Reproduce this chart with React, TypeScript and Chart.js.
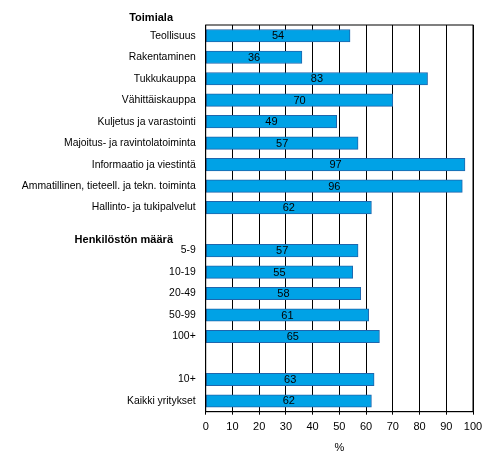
import { useEffect, useRef } from "react";
import Chart from "chart.js/auto";

const categories = [
  "Teollisuus",
  "Rakentaminen",
  "Tukkukauppa",
  "Vähittäiskauppa",
  "Kuljetus ja varastointi",
  "Majoitus- ja ravintolatoiminta",
  "Informaatio ja viestintä",
  "Ammatillinen, tieteell. ja tekn. toiminta",
  "Hallinto- ja tukipalvelut",
  "",
  "5-9",
  "10-19",
  "20-49",
  "50-99",
  "100+",
  " ",
  "10+",
  "Kaikki yritykset",
];

const values: (number | null)[] = [
  54, 36, 83, 70, 49, 57, 97, 96, 62,
  null,
  57, 55, 58, 61, 65,
  null,
  63, 62,
];

const groupHeaders = ["Toimiala", "Henkilöstön määrä"];
const xTicks = [0, 10, 20, 30, 40, 50, 60, 70, 80, 90, 100];

const FONT = "Arial, 'Liberation Sans', sans-serif";

export default function App() {
  const chartRef = useRef<HTMLCanvasElement>(null);

  useEffect(() => {
    document.body.style.margin = "0";
    if (!chartRef.current) return;
    const ctx = chartRef.current.getContext("2d");
    if (!ctx) return;

    const extras = {
      id: "extras",
      afterDatasetsDraw(chart: any) {
        const { ctx: c, chartArea: a, scales } = chart;
        const y = scales.y;
        // frame around plot
        c.save();
        c.strokeStyle = "#000";
        c.lineWidth = 1;
        c.strokeRect(a.left, a.top, a.right - a.left, a.bottom - a.top);
        // value labels
        const meta = chart.getDatasetMeta(0);
        c.font = "11px " + FONT;
        c.fillStyle = "#000";
        c.textAlign = "center";
        c.textBaseline = "middle";
        meta.data.forEach((bar: any, i: number) => {
          const v = values[i];
          if (v == null) return;
          c.fillText(String(v), (bar.base + bar.x) / 2, bar.y + 0.5);
        });
        // group headers
        c.font = "bold 11px " + FONT;
        c.textAlign = "right";
        const step = y.getPixelForValue(1) - y.getPixelForValue(0);
        c.fillText(groupHeaders[0], 173, y.getPixelForValue(0) - step * 0.84);
        c.fillText(groupHeaders[1], 173, y.getPixelForValue(10) - step * 0.5);
        c.restore();
      },
    };

    const myChart = new Chart(ctx, {
      type: "bar",
      data: {
        labels: categories,
        datasets: [
          {
            data: values,
            backgroundColor: "#00a2e6",
            borderColor: "#1f66ad",
            borderWidth: 1,
            borderSkipped: false,
            barThickness: 12.5,
          },
        ],
      },
      options: {
        indexAxis: "y",
        animation: false,
        responsive: false,
        maintainAspectRatio: false,
        layout: { padding: { top: 25, right: 20, left: 0, bottom: 0 } },
        plugins: {
          legend: { display: false },
          tooltip: { enabled: false },
        },
        scales: {
          x: {
            min: 0,
            max: 100,
            afterBuildTicks: (scale: any) => {
              scale.ticks = xTicks.map((v) => ({ value: v }));
            },
            afterFit: (scale: any) => {
              scale.height = 61.3;
            },
            grid: {
              color: "#000",
              lineWidth: 1,
              tickLength: 3,
              drawTicks: true,
            },
            border: { color: "#000", width: 1 },
            ticks: {
              color: "#000",
              padding: 6,
              font: { family: FONT, size: 11 },
            },
            title: {
              display: true,
              text: "%",
              color: "#000",
              font: { family: FONT, size: 11 },
              padding: { top: 0, bottom: 18 },
            },
          },
          y: {
            afterFit: (scale: any) => {
              scale.width = 205.7;
            },
            grid: { display: false, drawTicks: false },
            border: { color: "#000", width: 1 },
            ticks: {
              color: "#000",
              padding: 10,
              autoSkip: false,
              font: { family: FONT, size: 10.4 },
            },
          },
        },
      },
      plugins: [extras],
    });

    return () => {
      myChart.destroy();
    };
  }, []);

  return (
    <div style={{ width: 493, height: 473, background: "#fff" }}>
      <canvas ref={chartRef} width={493} height={473} style={{ width: 493, height: 473 }} />
    </div>
  );
}
